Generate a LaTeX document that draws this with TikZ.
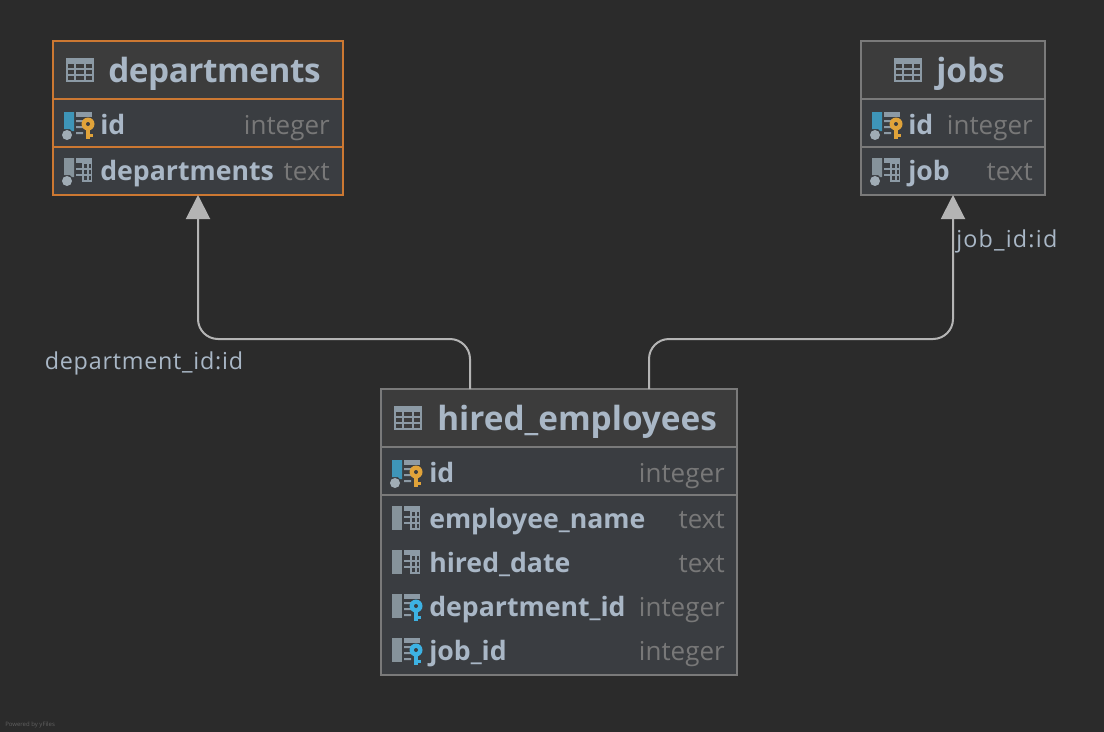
\documentclass[tikz,border=0pt]{standalone}
\usepackage{fontspec}
\setmainfont{Open Sans}
\newfontfamily\titlefont{Open Sans Bold}
\newfontfamily\rowfont{Open Sans Bold}
\newfontfamily\typefont{Open Sans}
\newfontfamily\lblfont[LetterSpace=3.3]{Open Sans}
\usetikzlibrary{arrows.meta}
\definecolor{bgc}{HTML}{2B2B2B}
\definecolor{headc}{HTML}{3C3C3C}
\definecolor{rowc}{HTML}{3A3D41}
\definecolor{txtc}{HTML}{A9B7C6}
\definecolor{typec}{HTML}{787878}
\definecolor{framec}{HTML}{7A7A7A}
\definecolor{orangec}{HTML}{CC7832}
\definecolor{linec}{HTML}{B4B4B4}
\definecolor{iconc}{HTML}{8C9AA5}
\definecolor{barc}{HTML}{86939B}
\definecolor{pkc}{HTML}{3E95B8}
\definecolor{dotc}{HTML}{A0ACB5}
\definecolor{goldc}{HTML}{E0A33A}
\definecolor{bluekeyc}{HTML}{3DB2E3}
\tikzset{
  x=.75pt,y=-.75pt,
  rowbox/.style={draw=#1,line width=1.5pt,fill=rowc,inner sep=0,outer sep=0},
  titletxt/.style={anchor=base west,inner sep=0,text=txtc,font=\titlefont\fontsize{25}{25}\selectfont},
  rowtxt/.style={anchor=base west,inner sep=0,text=txtc,font=\rowfont\fontsize{20}{20}\selectfont},
  typetxt/.style={anchor=base east,inner sep=0,text=typec,font=\typefont\fontsize{19.5}{19.5}\selectfont},
  lbl/.style={anchor=base west,inner sep=0,text=txtc,font=\lblfont\fontsize{17.5}{17.5}\selectfont},
  conn/.style={draw=linec,line width=1.5pt,rounded corners=15pt,-{Triangle[length=18pt,width=18pt,fill=linec]}},
  pics/tableicon/.style={code={
    \fill[iconc] (0,0) rectangle (28,24);
    \foreach \yy in {6,12,18}
      \foreach \xa/\xb in {2/8,10/18,20/26}
        \fill[headc] (\xa,\yy) rectangle (\xb,\yy+4);
  }},
  pics/grid/.style={code={
    \fill[iconc] (12,0) rectangle (28,24);
    \foreach \ya/\yb in {5/9.5,11.5/16,18/24} \fill[rowc] (12,\ya) rectangle (17.5,\yb);
    \foreach \ya/\yb in {6/9.5,11.5/16,18/22}
      \foreach \xa/\xb in {19.5/22.5,24.5/26.5}
        \fill[rowc] (\xa,\ya) rectangle (\xb,\yb);
  }},
  pics/keylines/.style={code={
    \fill[iconc] (12,0) rectangle (28,5);
    \fill[iconc] (12,8) rectangle (19,10) (12,14) rectangle (19,16) (12,20) rectangle (19,22);
  }},
  pics/barplain/.style={code={\fill[barc] (0,0) rectangle (10,24);}},
  pics/bardot/.style={code={
    \fill[#1] (0,0) -- (10,0) -- (10,19) -- (8,19) -- (6,17) -- (0,17) -- cycle;
    \fill[dotc] (3,23) circle[radius=5];
  }},
  pics/keyshape/.style={code={
    \fill[#1] (24,12) circle[radius=6.5];
    \fill[#1] (22,12) rectangle (26,27);
    \fill[#1] (26,21.5) rectangle (29,24.5);
    \fill[rowc] (24,12) circle[radius=2];
  }},
}
\newcommand{\pkicon}[2]{\path (#1,#2) pic {bardot=pkc} pic {keylines} pic {keyshape=goldc};}
\newcommand{\nnicon}[2]{\path (#1,#2) pic {bardot=barc} pic {grid};}
\newcommand{\colicon}[2]{\path (#1,#2) pic {barplain} pic {grid};}
\newcommand{\fkicon}[2]{\path (#1,#2) pic {barplain} pic {keylines} pic {keyshape=bluekeyc};}
\begin{document}
\begin{tikzpicture}
\useasboundingbox (0,0) rectangle (1104,732);
\fill[bgc] (0,0) rectangle (1104,732);

% departments
\node[rowbox=orangec,minimum width=217.5pt,minimum height=115.5pt] (departments) at (198,118) {};
\fill[headc] (54,42) rectangle (342,98);
\draw[orangec,line width=1.5pt] (departments.west |- 0,99) -- (departments.east |- 0,99);
\draw[orangec,line width=1.5pt] (departments.west |- 0,147) -- (departments.east |- 0,147);
\path (66,58) pic {tableicon};
\node[titletxt] (dTitle) at (108,82.5) {\addfontfeature{LetterSpace=-1.4}departments};
\pkicon{64}{112}
\node[rowtxt] (dIdName) at (100,134) {id};
\node[typetxt] (dIdType) at (330,134) {integer};
\nnicon{64}{158}
\node[rowtxt] (dDepName) at (100,180) {departments};
\node[typetxt] (dDepType) at (330,180) {text};

% jobs
\node[rowbox=framec,minimum width=138pt,minimum height=115.5pt] (jobs) at (953,118) {};
\fill[headc] (862,42) rectangle (1044,98);
\draw[framec,line width=1.5pt] (jobs.west |- 0,99) -- (jobs.east |- 0,99);
\draw[framec,line width=1.5pt] (jobs.west |- 0,147) -- (jobs.east |- 0,147);
\path (894,58) pic {tableicon};
\node[titletxt] (jTitle) at (936,82.5) {jobs};
\pkicon{872}{112}
\node[rowtxt] (jIdName) at (908,134) {id};
\node[typetxt] (jIdType) at (1033,134) {integer};
\nnicon{872}{158}
\node[rowtxt] (jJobName) at (908,180) {job};
\node[typetxt] (jJobType) at (1033,180) {text};

% hired_employees
\node[rowbox=framec,minimum width=267pt,minimum height=214.5pt] (hired) at (559,532) {};
\fill[headc] (382.5,390) rectangle (736,446);
\draw[framec,line width=1.5pt] (hired.west |- 0,447) -- (hired.east |- 0,447);
\draw[framec,line width=1.5pt] (hired.west |- 0,495) -- (hired.east |- 0,495);
\path (394,406) pic {tableicon};
\node[titletxt] (hTitle) at (437,430.5) {hired\_employees};
\pkicon{392}{460}
\node[rowtxt] (hIdName) at (429,482) {id};
\node[typetxt] (hIdType) at (725,482) {integer};
\colicon{392}{506}
\node[rowtxt] (hEmpName) at (429,528) {employee\_name};
\node[typetxt] (hEmpType) at (725,528) {text};
\colicon{392}{550}
\node[rowtxt] (hDateName) at (429,572) {hired\_date};
\node[typetxt] (hDateType) at (725,572) {text};
\fkicon{392}{594}
\node[rowtxt] (hDepName) at (429,616) {department\_id};
\node[typetxt] (hDepType) at (725,616) {integer};
\fkicon{392}{638}
\node[rowtxt] (hJobName) at (429,660) {job\_id};
\node[typetxt] (hJobType) at (725,660) {integer};

% connectors
\coordinate (bendL) at (334,339);
\coordinate (bendR) at (801,339);
\draw[conn] ([xshift=-66.75pt]hired.north) |- (bendL) -| (departments.south);
\draw[conn] ([xshift=67.5pt]hired.north) |- (bendR) -| (jobs.south);

% labels
\node[lbl] (lDep) at (44.5,369) {department\_id:id};
\node[lbl] (lJob) at (956,247) {\addfontfeature{LetterSpace=5.2}job\_id:id};
\node[anchor=base west,inner sep=0,text=typec!70!bgc,font=\fontsize{4.5}{4.5}\selectfont] (yf) at (5,726) {Powered by yFiles};
\end{tikzpicture}
\end{document}
